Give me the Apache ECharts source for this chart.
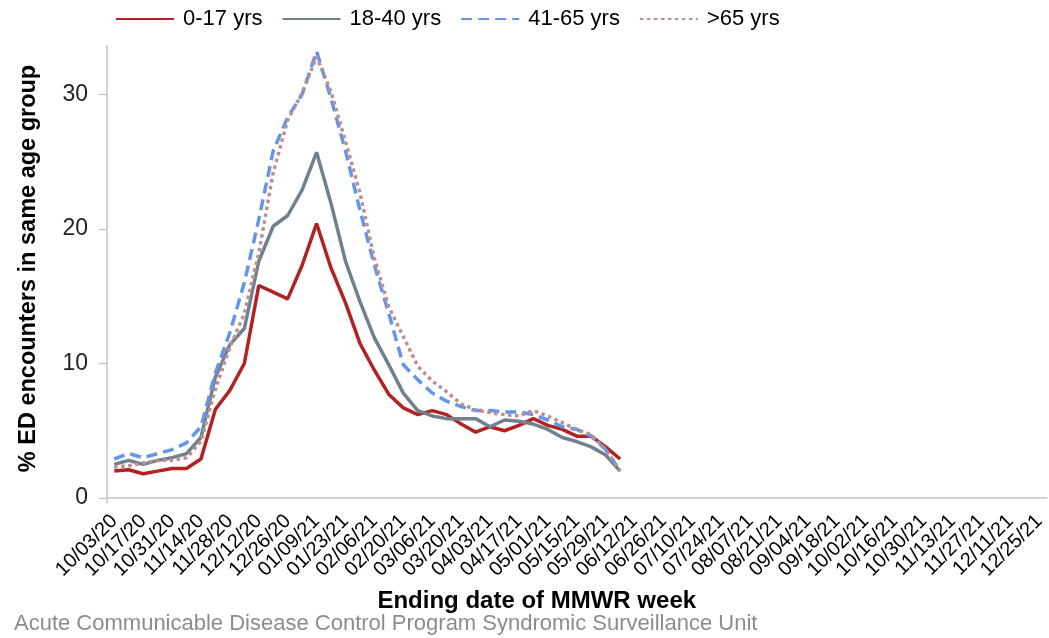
<!DOCTYPE html>
<html>
<head>
<meta charset="utf-8">
<script src="https://cdn.jsdelivr.net/npm/echarts@6/dist/echarts.min.js"></script>
<style>
html,body{margin:0;padding:0;background:#fff;}
#chart{width:1049px;height:638px;}
</style>
</head>
<body>
<div id="chart"></div>
<script>
var weeks = ['10/03/20','10/10/20','10/17/20','10/24/20','10/31/20','11/07/20','11/14/20','11/21/20','11/28/20','12/05/20','12/12/20','12/19/20','12/26/20',
'01/02/21','01/09/21','01/16/21','01/23/21','01/30/21','02/06/21','02/13/21','02/20/21','02/27/21','03/06/21','03/13/21','03/20/21','03/27/21',
'04/03/21','04/10/21','04/17/21','04/24/21','05/01/21','05/08/21','05/15/21','05/22/21','05/29/21','06/05/21','06/12/21','06/19/21','06/26/21',
'07/03/21','07/10/21','07/17/21','07/24/21','07/31/21','08/07/21','08/14/21','08/21/21','08/28/21','09/04/21','09/11/21','09/18/21','09/25/21',
'10/02/21','10/09/21','10/16/21','10/23/21','10/30/21','11/06/21','11/13/21','11/20/21','11/27/21','12/04/21','12/11/21','12/18/21','12/25/21'];

var age0_17  = [2.0,2.1,1.8,2.0,2.2,2.2,2.9,6.6,8.0,10.0,15.8,15.3,14.8,17.3,20.4,17.1,14.5,11.5,9.5,7.7,6.7,6.2,6.5,6.2,5.5,4.9,5.3,5.0,5.4,5.9,5.4,5.1,4.6,4.6,3.8,2.9];
var age18_40 = [2.5,2.8,2.5,2.8,3.0,3.3,4.5,9.0,11.4,12.6,17.6,20.2,21.0,22.9,25.7,21.9,17.6,14.6,11.9,9.9,7.8,6.5,6.1,5.9,5.9,5.9,5.3,5.8,5.7,5.5,5.1,4.5,4.2,3.8,3.2,2.0];
var age41_65 = [2.9,3.3,3.0,3.3,3.6,4.1,5.3,9.3,12.3,16.0,20.7,25.8,28.3,30.0,33.2,29.7,25.8,21.4,17.3,13.7,9.9,8.8,7.8,7.2,6.8,6.5,6.5,6.4,6.4,6.2,5.8,5.3,5.1,4.6,3.6,2.0];
var age65up  = [2.3,2.4,2.6,2.8,2.8,3.0,4.2,8.1,11.2,13.7,18.2,24.2,28.1,30.1,32.8,30.2,26.5,22.7,17.8,14.2,12.0,9.8,8.7,7.9,7.0,6.55,6.35,6.2,6.1,6.5,6.1,5.6,5.1,4.7,3.6,2.0];

var seriesNames = ['0-17 yrs','18-40 yrs','41-65 yrs','>65 yrs'];
var yTicks = [0,10,20,30];

var chart = echarts.init(document.getElementById('chart'));
var font = 'Liberation Sans, Arial, sans-serif';
var axisColor = '#c3c3c3';

chart.setOption({
  animation: false,
  textStyle: {fontFamily: font},
  legend: {
    left: 110, top: 3,
    itemWidth: 58, itemHeight: 14, itemGap: 19,
    itemStyle: {opacity: 0},
    textStyle: {fontSize: 22, color: '#000', fontFamily: font, padding: [0,0,0,4]},
    data: seriesNames
  },
  grid: {left: 107, right: 2.5, top: 46, bottom: 135, containLabel: false},
  xAxis: {
    type: 'category',
    data: weeks,
    boundaryGap: true,
    axisLine: {lineStyle: {color: axisColor, width: 1.5}},
    axisTick: {alignWithLabel: true, interval: 0, length: 6, lineStyle: {color: axisColor, width: 1.2}},
    axisLabel: {interval: 1, rotate: 45, fontSize: 20, color: '#000', margin: 15, fontFamily: font},
    name: 'Ending date of MMWR week',
    nameLocation: 'middle',
    nameGap: 86,
    nameTextStyle: {fontSize: 24, fontWeight: 'bold', color: '#000', padding: [0, 80, 0, 0], fontFamily: font},
    splitLine: {show: false}
  },
  yAxis: {
    type: 'value',
    min: -0.37, max: 33.6,
    axisLine: {show: true, lineStyle: {color: axisColor, width: 1.5}},
    axisTick: {show: true, length: 8, customValues: yTicks, lineStyle: {color: axisColor, width: 1.2}},
    axisLabel: {fontSize: 23, color: '#222', margin: 19, customValues: yTicks, fontFamily: font},
    splitLine: {show: false},
    name: '% ED encounters in same age group',
    nameLocation: 'middle',
    nameGap: 66,
    nameTextStyle: {fontSize: 23.5, fontWeight: 'bold', color: '#000', padding: [0,0,0,12], fontFamily: font}
  },
  graphic: [{
    type: 'text', left: 14, top: 613,
    style: {text: 'Acute Communicable Disease Control Program Syndromic Surveillance Unit', fill: '#8c8c8c', font: '22px Liberation Sans, Arial, sans-serif'}
  }],
  series: [
    {name: seriesNames[0], type: 'line', data: age0_17, symbol: 'none', lineStyle: {color: '#B22222', width: 3.5}, itemStyle: {color: '#B22222'}},
    {name: seriesNames[1], type: 'line', data: age18_40, symbol: 'none', lineStyle: {color: '#708090', width: 3.5}, itemStyle: {color: '#708090'}},
    {name: seriesNames[2], type: 'line', data: age41_65, symbol: 'none', lineStyle: {color: '#6495ED', width: 3.5, type: [11, 6]}, itemStyle: {color: '#6495ED'}},
    {name: seriesNames[3], type: 'line', data: age65up, symbol: 'none', lineStyle: {color: '#BC8F8F', width: 3.5, type: [3.5, 3.5]}, itemStyle: {color: '#BC8F8F'}}
  ]
});
</script>
</body>
</html>
